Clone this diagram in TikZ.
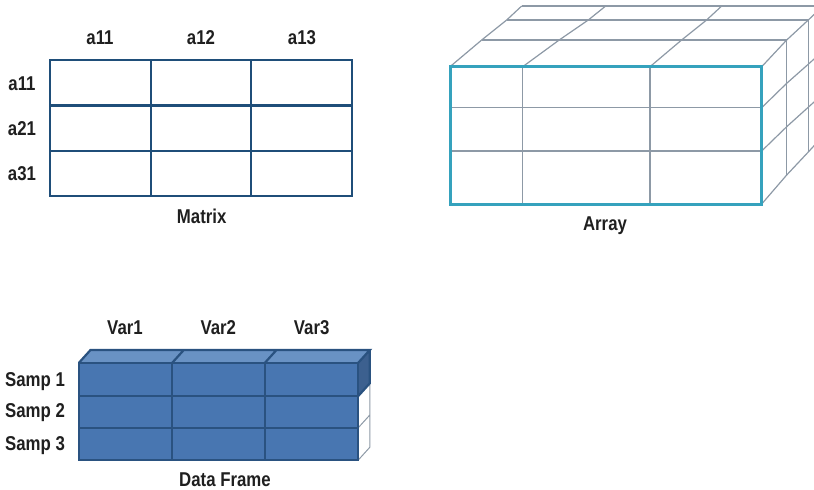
\documentclass[tikz,border=0pt]{standalone}
\usepackage{fontspec}
\setmainfont{Liberation Sans}[UprightFont=*, BoldFont=* Bold, BoldFeatures={FakeStretch=0.84}]
\definecolor{matblue}{RGB}{31,78,121}
\definecolor{teal}{RGB}{53,162,189}
\definecolor{grayline}{RGB}{141,153,166}
\definecolor{dffront}{RGB}{72,118,177}
\definecolor{dftop}{RGB}{105,146,196}
\definecolor{dfside}{RGB}{60,96,143}
\definecolor{dfline}{RGB}{42,82,128}
\begin{document}
\begin{tikzpicture}[x=1pt,y=-1pt,
  lbl/.style={font=\fontsize{20}{22}\selectfont\bfseries, inner sep=0pt, anchor=base, text=black!88},
  matline/.style={draw=matblue, line width=2.8pt},
  gline/.style={draw=grayline, line width=1.2pt},
  tealline/.style={draw=teal, line width=3pt},
  dfgrid/.style={draw=dfline, line width=2.2pt}]
\useasboundingbox (0,0) rectangle (814,490);
\clip (0,0) rectangle (814,490);

% ---------- Matrix ----------
\draw[matline] (50,60) rectangle (352,196);
\draw[matline] (151,60)--(151,196) (251,60)--(251,196)
  (50,105.5)--(352,105.5) (50,151)--(352,151);
\node[lbl] (c1) at (100,44) {a11};
\node[lbl] (c2) at (201,44) {a12};
\node[lbl] (c3) at (302,44) {a13};
\node[lbl] (r1) at (22,90) {a11};
\node[lbl] (r2) at (22,135) {a21};
\node[lbl] (r3) at (22,180.7) {a31};
\node[lbl] (mt) at (201.7,223.3) {Matrix};

% ---------- Array ----------
\coordinate (L0) at (450,66.7);   \coordinate (L1) at (481.7,40);  \coordinate (L2) at (506.7,20);  \coordinate (L3) at (521.7,6);
\coordinate (A0) at (522.7,66.7); \coordinate (A1) at (559.2,40);  \coordinate (A2) at (588.3,20);  \coordinate (A3) at (605.7,6);
\coordinate (B0) at (650,66.7);   \coordinate (B1) at (681.6,40);  \coordinate (B2) at (706.6,20);  \coordinate (B3) at (721.7,6);
\coordinate (R0) at (761.7,66.7); \coordinate (R1) at (786.7,40);  \coordinate (R2) at (808.3,20);  \coordinate (R3) at (823,6);
\coordinate (P0) at (761.7,107.7);\coordinate (P1) at (786.7,83.3);\coordinate (P2) at (808.3,64.2);\coordinate (P3) at (823,51);
\coordinate (Q0) at (761.7,151);  \coordinate (Q1) at (786.7,126.7);\coordinate (Q2) at (808.3,107.2);\coordinate (Q3) at (823,94);
\coordinate (D0) at (761.7,204);  \coordinate (D1) at (786.7,175); \coordinate (D2) at (808.3,152); \coordinate (D3) at (823,136);
% top face
\draw[gline] (L1)--(R1) (L2)--(R2) (L3)--(R3);
\draw[gline] (L0)--(L1)--(L2)--(L3) (A0)--(A1)--(A2)--(A3)
  (B0)--(B1)--(B2)--(B3) (R0)--(R1)--(R2)--(R3);
% right face
\draw[gline] (R1)--(D1) (R2)--(D2) (R3)--(D3);
\draw[gline] (P0)--(P1)--(P2)--(P3) (Q0)--(Q1)--(Q2)--(Q3) (D0)--(D1)--(D2)--(D3);
% front grid
\draw[gline] (522.7,66.7)--(522.7,204) (650,66.7)--(650,204)
  (450,107.7)--(761.7,107.7) (450,151)--(761.7,151);
\draw[tealline] (450,66.7) rectangle (761.7,204);
\node[lbl] (ar) at (605,230) {Array};

% ---------- Data Frame ----------
\fill[dftop] (79,362.7)--(90.5,350)--(369.8,350)--(358.3,362.7)--cycle;
\fill[dfside] (358.3,362.7)--(369.8,350)--(369.8,383.3)--(358.3,396)--cycle;
\draw[gline, line width=1pt] (369.8,383.3)--(369.8,447.3) (358.3,427.7)--(369.8,415)
  (358.3,460)--(369.8,447.3);
\fill[dffront] (79,362.7) rectangle (358.3,460);
\draw[dfgrid] (79,362.7)--(90.5,350)--(369.8,350)--(358.3,362.7)
  (369.8,350)--(369.8,383.3)--(358.3,396)
  (172.3,362.7)--(183.8,350) (265,362.7)--(276.5,350);
\draw[dfgrid] (79,362.7) rectangle (358.3,460);
\draw[dfgrid] (172.3,362.7)--(172.3,460) (265,362.7)--(265,460)
  (79,396)--(358.3,396) (79,427.7)--(358.3,427.7);
\node[lbl] (v1) at (125,334) {Var1};
\node[lbl] (v2) at (218.3,334) {Var2};
\node[lbl] (v3) at (311.7,334) {Var3};
\node[lbl] (s1) at (35,386.7) {Samp 1};
\node[lbl] (s2) at (35,417.3) {Samp 2};
\node[lbl] (s3) at (35,450) {Samp 3};
\node[lbl] (df) at (225,486.7) {Data Frame};
\end{tikzpicture}
\end{document}
